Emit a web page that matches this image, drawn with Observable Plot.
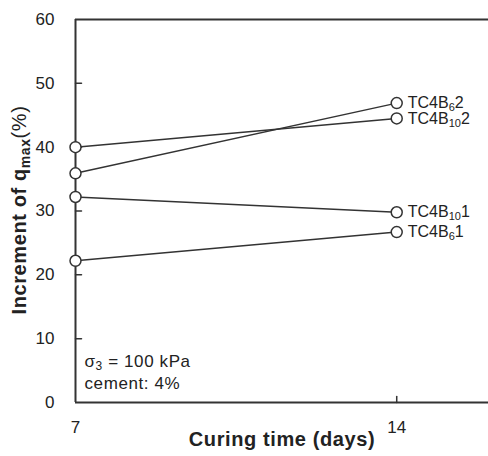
<!DOCTYPE html>
<html>
<head>
<meta charset="utf-8">
<script src="https://cdn.jsdelivr.net/npm/d3@7"></script>
<script src="https://cdn.jsdelivr.net/npm/@observablehq/plot@0.6"></script>
<style>
  html, body { margin: 0; padding: 0; background: #fff; }
  #chart { width: 488px; height: 456px; }
  .wide text { letter-spacing: 0.6px; }
</style>
</head>
<body>
<div id="chart"></div>
<script>
// ---- data ----
const days = [7, 14];
const seriesNames = ["TC4B_{6}2", "TC4B_{10}2", "TC4B_{10}1", "TC4B_{6}1"];
const seriesValues = [
  [35.9, 46.9],
  [40.0, 44.5],
  [32.2, 29.8],
  [22.2, 26.7]
];
const yTicks = [0, 10, 20, 30, 40, 50, 60];
const xTicks = [7, 14];
const xTitle = "Curing time (days)";
const yTitle = "Increment of q_{max}~{(%)}";
const note1 = "σ_{3} = 100 kPa";
const note2 = "cement: 4%";

// long table built from arrays
const rows = [];
seriesNames.forEach((name, i) => days.forEach((d, j) => rows.push({name, day: d, value: seriesValues[i][j]})));

const ink = "#222";
const tickShape = {draw(ctx, l) { ctx.moveTo(0, 0); ctx.lineTo(0, -l); }};

const chart = Plot.plot({
  width: 488,
  height: 456,
  marginLeft: 75,
  marginRight: 0,
  marginTop: 19,
  marginBottom: 54,
  style: {fontFamily: "'Liberation Sans', Arial, sans-serif", color: ink, background: "#fff"},
  x: {domain: [7, 16]},
  y: {domain: [0, 60]},
  marks: [
    Plot.ruleY([0, 60], {stroke: "#333", strokeWidth: 2}),
    Plot.ruleX([7], {stroke: "#333", strokeWidth: 2}),
    Plot.vector(yTicks.slice(1, -1), {x: 7, y: d => d, length: 6, rotate: 90, anchor: "start", shape: tickShape, stroke: "#333", strokeWidth: 1.5}),
    Plot.vector(xTicks.slice(1), {x: d => d, y: 0, length: 6, rotate: 0, anchor: "start", shape: tickShape, stroke: "#333", strokeWidth: 1.5}),
    Plot.axisY(yTicks, {tickSize: 0, tickPadding: 21, fontSize: 17, label: null}),
    Plot.axisX(xTicks, {tickSize: 0, tickPadding: 18, fontSize: 17, label: null}),
    Plot.line(rows, {x: "day", y: "value", z: "name", stroke: "#333", strokeWidth: 1.5}),
    Plot.dot(rows, {x: "day", y: "value", r: 5.5, fill: "white", stroke: "#333", strokeWidth: 1.5}),
    Plot.text(rows.filter(d => d.day === 14), {x: "day", y: "value", text: "name", dx: 11, textAnchor: "start", fontSize: 16, fill: ink}),
    Plot.text([xTitle], {frameAnchor: "bottom", dy: 43, fontWeight: "bold", fontSize: 20, fill: ink, className: "wide"}),
    Plot.text([yTitle], {frameAnchor: "left", rotate: -90, textAnchor: "middle", dx: -56, dy: -1, fontWeight: "bold", fontSize: 20, fill: ink, className: "wide"}),
    Plot.text([note1], {frameAnchor: "bottom-left", dx: 9, dy: -36, textAnchor: "start", fontSize: 17, fill: ink, className: "wide"}),
    Plot.text([note2], {frameAnchor: "bottom-left", dx: 9, dy: -14, textAnchor: "start", fontSize: 17, fill: ink, className: "wide"})
  ]
});

// turn "_{...}" into subscript tspans and "~{...}" into normal-weight tspans
function richify(el) {
  const str = el.textContent;
  if (!/[_~]\{/.test(str)) return;
  const fs = parseFloat(el.closest("[font-size]")?.getAttribute("font-size") || 16);
  const shift = Math.round(fs * 0.2);
  el.textContent = "";
  const re = /([_~])\{([^}]*)\}/g;
  let last = 0, m, pendingUp = false;
  const ns = "http://www.w3.org/2000/svg";
  const add = (txt, kind) => {
    if (!txt) return;
    const t = document.createElementNS(ns, "tspan");
    t.textContent = txt;
    if (kind === "_") { t.setAttribute("dy", shift); t.setAttribute("font-size", Math.round(fs * 0.7)); pendingUp = true; }
    else if (pendingUp) { t.setAttribute("dy", -shift); pendingUp = false; }
    if (kind === "~") t.setAttribute("font-weight", "normal");
    el.appendChild(t);
  };
  while ((m = re.exec(str))) {
    add(str.slice(last, m.index), null);
    add(m[2], m[1]);
    last = re.lastIndex;
  }
  add(str.slice(last), null);
}
chart.querySelectorAll("text").forEach(richify);
document.getElementById("chart").appendChild(chart);
</script>
</body>
</html>
